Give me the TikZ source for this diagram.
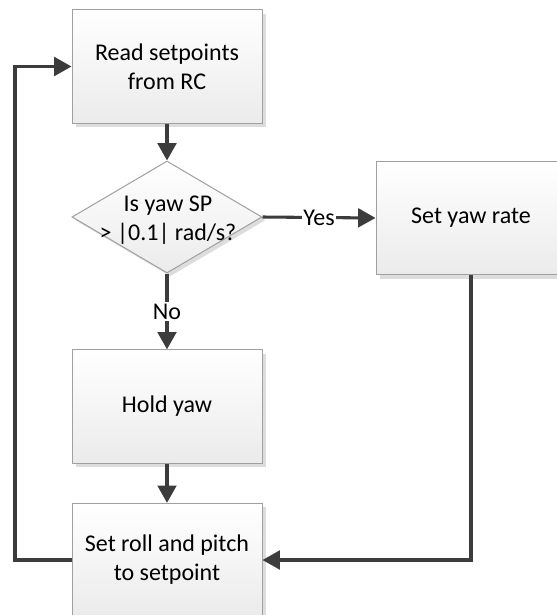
\documentclass[tikz,border=0pt]{standalone}
\usepackage{fontspec}
\setmainfont{Carlito}
\usetikzlibrary{arrows.meta,shapes.geometric,shadows}

\definecolor{linegray}{HTML}{3C3C3C}
\definecolor{edgegray}{HTML}{A0A0A0}
\definecolor{shadegray}{HTML}{EBEBEB}
\definecolor{shadowgray}{HTML}{DDDDDD}

\begin{document}
\begin{tikzpicture}[x=0.75pt,y=-0.75pt,
  font=\fontsize{18}{21.75}\selectfont,
  stepbox/.style={rectangle, draw=edgegray, line width=0.75pt,
    top color=white, bottom color=shadegray,
    minimum width=142.5pt, minimum height=85pt, inner sep=0pt, align=center,
    drop shadow={shadow xshift=3pt, shadow yshift=-3pt, fill=shadowgray, opacity=1}},
  decision/.style={diamond, draw=edgegray, line width=0.75pt,
    top color=white, bottom color=shadegray,
    minimum width=142.5pt, minimum height=84pt, inner sep=0pt,
    drop shadow={shadow xshift=2.5pt, shadow yshift=-2.5pt, fill=shadowgray, opacity=1}},
  conn/.style={draw=linegray, line width=2.3pt, -{Triangle[length=13pt,width=14pt]}},
  tag/.style={fill=white, inner sep=1pt}]

  \useasboundingbox (0,0) rectangle (557,615);
  \fill[white] (0,0) rectangle (557,615);

  % process steps
  \node[stepbox] (read) at (167,66.5) {Read setpoints\\from RC};
  \node[decision] (dec) at (167,217) {};
  \node[align=center, inner sep=0pt] (dectext) at (168,220) {Is yaw SP\\> |0.1| rad/s?};
  \node[stepbox] (yawrate) at (471,218) {Set yaw rate};
  \node[stepbox] (hold) at (167,406.5) {Hold yaw};
  \node[stepbox] (setrp) at (167,560) {Set roll and pitch\\to setpoint};

  % return path on the left
  \coordinate (loop) at (15,0);

  % connectors
  \draw[conn] (read.south) -- (dec.north);
  \draw[conn] (dec.east) -- node[tag] {Yes} (yawrate.west);
  \draw[conn] (dec.south) -- node[tag] {No} (hold.north);
  \draw[conn] (hold.south) -- (setrp.north);
  \draw[conn] (yawrate.south) |- (setrp.east);
  \draw[conn] (setrp.west) -- (setrp.west -| loop) |- (read.west);
\end{tikzpicture}
\end{document}
